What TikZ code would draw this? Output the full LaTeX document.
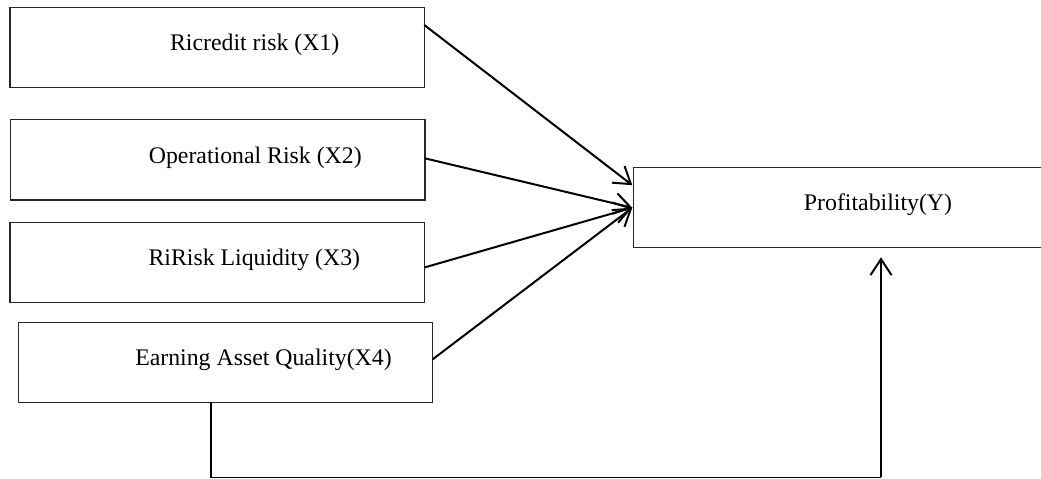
\documentclass[tikz,border=0pt]{standalone}
\usepackage{fontspec}
\setmainfont{Liberation Serif}
\usetikzlibrary{arrows.meta,calc}
\begin{document}
\begin{tikzpicture}[x=1pt,y=-1pt,
  boxnode/.style={draw=black!85,line width=1.1pt,rectangle,inner sep=0pt,outer sep=0pt,anchor=north west},
  txt/.style={font=\fontsize{23.8}{28}\selectfont,inner sep=0pt,anchor=base},
  arr/.style={line width=2pt,-{Straight Barb[length=16pt,width=21pt,line width=2pt]}},
  link/.style={line width=1.5pt}
]
\useasboundingbox (0,0) rectangle (1041,479);
% boxes
\node[boxnode,minimum width=414.3pt,minimum height=80.4pt] (b1) at (10,7.3) {};
\node[boxnode,minimum width=414.3pt,minimum height=80.3pt] (b2) at (10.7,119.7) {};
\node[boxnode,minimum width=414.3pt,minimum height=80.4pt] (b3) at (10,222.3) {};
\node[boxnode,minimum width=414pt,minimum height=80pt] (b4) at (18.7,322.3) {};
\node[rectangle,inner sep=0pt,outer sep=0pt,anchor=north west,minimum width=410pt,minimum height=80pt] (bY) at (633.3,167.7) {};
\draw[black!85,line width=1.1pt] (bY.north east) -- (bY.north west) -- (bY.south west) -- (bY.south east);
% texts
\node[txt] (t1) at (254.7,50) {Ricredit risk (X1)};
\node[txt] (t2) at (255.3,163.3) {Operational Risk (X2)};
\node[txt] (t3) at (254.3,265.5) {RiRisk Liquidity (X3)};
\node[txt] (t4) at (263.5,365.7) {Earning Asset Quality(X4)};
\node[txt] (tY) at (878,210) {Profitability(Y)};
% arrows
\draw[arr] ([yshift=22.5pt]b1.east) -- ([xshift=-1pt,yshift=22.5pt]bY.west);
\draw[arr] ([yshift=1.5pt]b2.east) -- ([xshift=-1pt]bY.west);
\draw[arr] ([yshift=-5pt]b3.east) -- ([xshift=-1pt]bY.west);
\draw[arr] ([yshift=3pt]b4.east) -- ([xshift=-1pt]bY.west);
% bottom connector
\coordinate (c1) at (211,477.5);
\coordinate (c2) at (881,477.5);
\coordinate (tipY) at (881,257.3);
\draw[link] ([xshift=-14.7pt]b4.south) -- (c1) -- (c2);
\draw[arr] ([yshift=0.75pt]c2) -- (tipY);
\end{tikzpicture}
\end{document}
